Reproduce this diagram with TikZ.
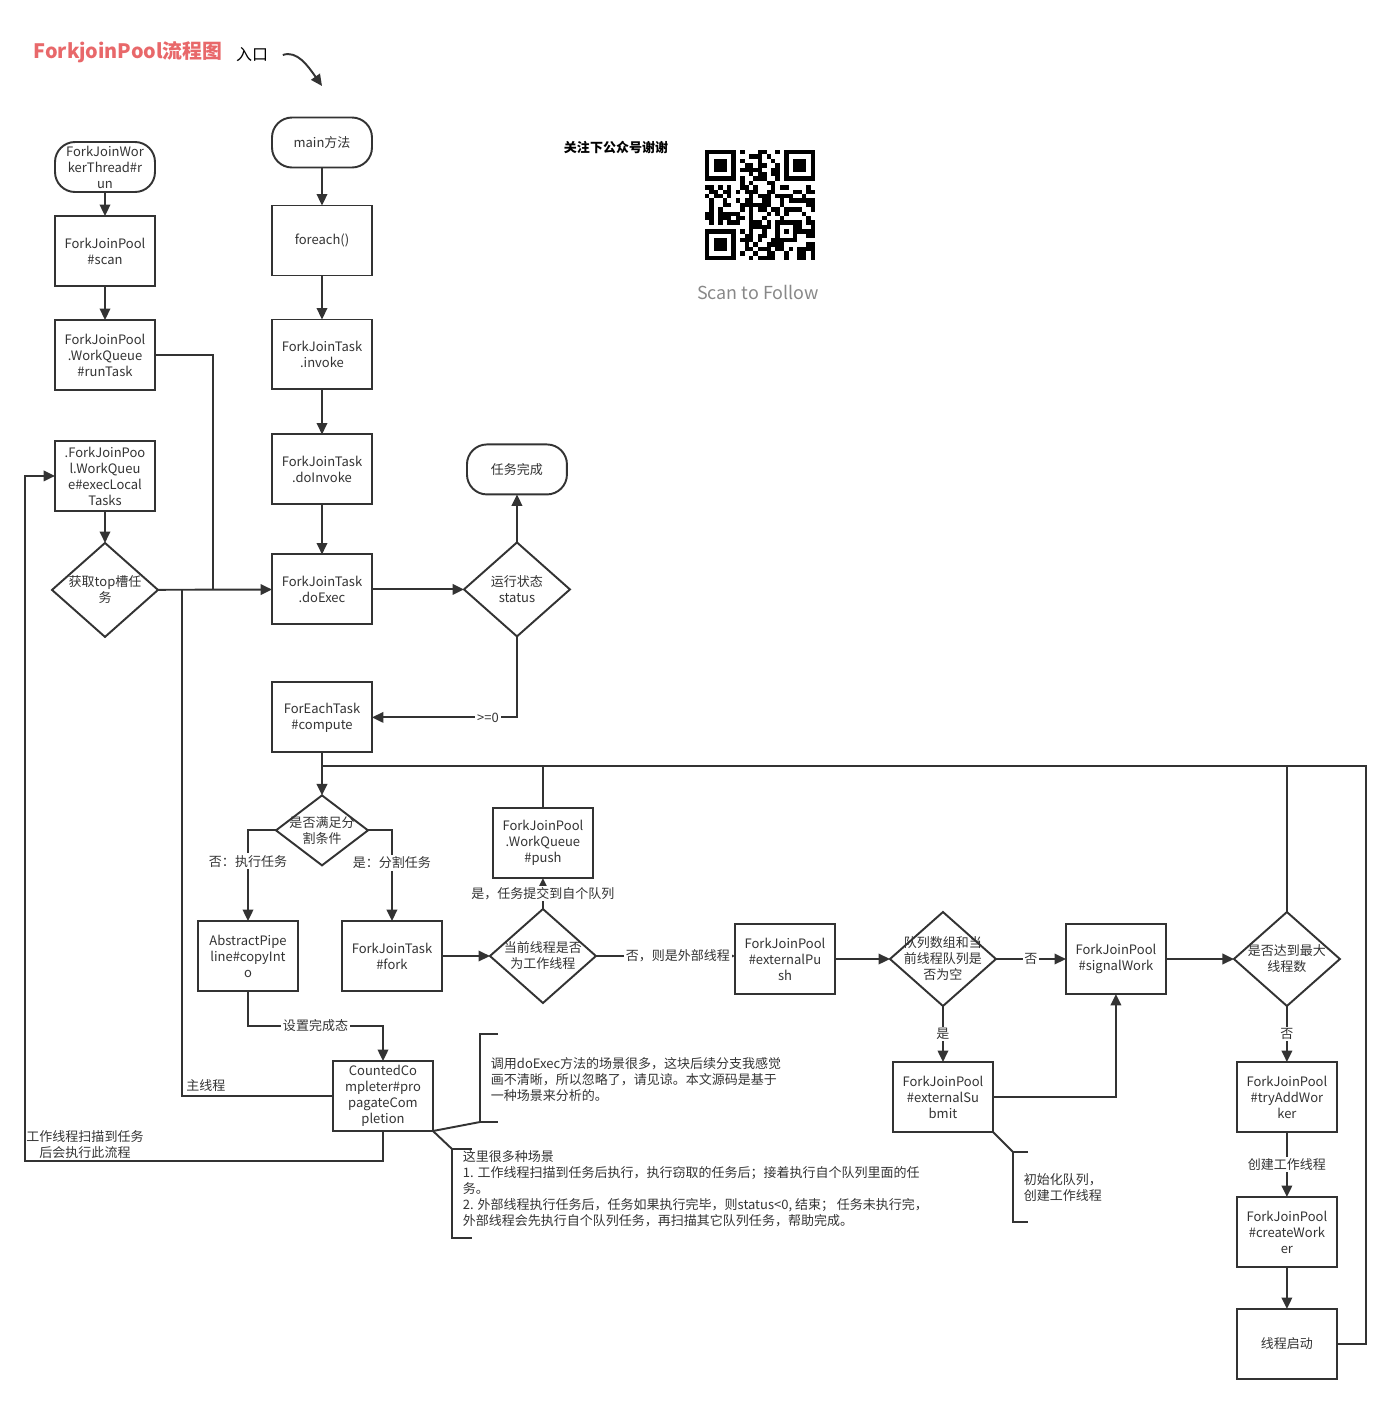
\documentclass[tikz,border=0pt]{standalone}
\usepackage{fontspec}
\setmainfont{Noto Sans CJK SC}
\usetikzlibrary{positioning, arrows.meta, shapes.geometric}
\definecolor{linegray}{RGB}{51,51,51}
\definecolor{titlered}{RGB}{232,104,106}
\definecolor{scangray}{RGB}{136,136,136}
\newcommand{\nodefont}{\fontsize{7.4pt}{9.1pt}\selectfont}
\tikzset{
  shapebase/.style={draw=linegray, line width=1.1pt, text=linegray, align=center, outer sep=0pt},
  proc/.style={shapebase, rectangle, minimum width=2cm, minimum height=1.4cm, inner sep=1pt},
  term/.style={shapebase, rectangle, rounded corners=0.4cm, minimum width=2cm, minimum height=1cm, inner sep=0pt},
  decision/.style={shapebase, diamond, minimum width=2.12cm, minimum height=1.88cm, inner sep=0pt},
  lbl/.style={fill=white, inner sep=1pt, text=linegray},
  memo/.style={align=left, inner sep=0pt, text=linegray, anchor=west},
}

\begin{document}
\begin{tikzpicture}[x=0.02cm, y=-0.02cm, color=linegray, line width=1.1pt, font=\nodefont,
    >={Triangle[length=6.5pt,width=6pt]},
    every label/.style={align=center, font=\nodefont, text=linegray}]
\useasboundingbox (0,0) rectangle (1391,1404);

% title
\node[text=titlered, font=\fontsize{11.3pt}{13pt}\selectfont\bfseries] (title) at (128,52) {ForkjoinPool流程图};
\node[text=black, font=\fontsize{9.1pt}{11pt}\selectfont] (kou) at (252,55) {入口};
\coordinate (entryend) at (322,86);

% worker thread column
\node[term] (run) at (105,167) {ForkJoinWor\\kerThread\#r\\un};
\node[proc, below=0.48cm of run] (scan) {ForkJoinPool\\\#scan};
\node[proc, below=0.68cm of scan] (runtask) {ForkJoinPool\\.WorkQueue\\\#runTask};
\node[proc, below=1.02cm of runtask] (execlocal) {.ForkJoinPoo\\l.WorkQueu\\e\#execLocal\\Tasks};
\node[decision, below=0.64cm of execlocal, label={center:获取top槽任\\务}] (gettop) {};

% main column
\node[term] (main) at (322,142.5) {main方法};
\node[proc, below=0.76cm of main] (foreach) {foreach()};
\node[proc, below=0.88cm of foreach] (invoke) {ForkJoinTask\\.invoke};
\node[proc, below=0.9cm of invoke] (doinvoke) {ForkJoinTask\\.doInvoke};
\node[proc, below=1cm of doinvoke] (doexec) {ForkJoinTask\\.doExec};
\node[decision, right=1.84cm of doexec, label={center:运行状态\\status}] (status) {};
\node[term, above=0.96cm of status] (done) {任务完成};
\node[proc, below=1.16cm of doexec] (compute) {ForEachTask\\\#compute};
\node[decision, minimum width=1.84cm, minimum height=1.4cm, below=0.86cm of compute, label={center:是否满足分\\割条件}] (split) {};

% fork row
\node[proc] (copyinto) at (248,956) {AbstractPipe\\line\#copyInt\\o};
\node[proc, right=0.88cm of copyinto] (fork) {ForkJoinTask\\\#fork};
\node[decision, right=0.96cm of fork, label={center:当前线程是否\\为工作线程}] (isworker) {};
\node[proc, above=0.62cm of isworker] (push) {ForkJoinPool\\.WorkQueue\\\#push};

% external row
\node[proc] (extpush) at (785,959) {ForkJoinPool\\\#externalPu\\sh};
\node[decision, right=1.1cm of extpush, label={center:队列数组和当\\前线程队列是\\否为空}] (isempty) {};
\node[proc, right=1.4cm of isempty] (signal) {ForkJoinPool\\\#signalWork};
\node[decision, right=1.36cm of signal, label={center:是否达到最大\\线程数}] (maxthr) {};
\node[proc, below=1.12cm of isempty] (extsubmit) {ForkJoinPool\\\#externalSu\\bmit};
\node[proc, below=1.12cm of maxthr] (tryadd) {ForkJoinPool\\\#tryAddWor\\ker};
\node[proc, below=1.3cm of tryadd] (create) {ForkJoinPool\\\#createWork\\er};
\node[proc, below=0.84cm of create] (start) {线程启动};
\node[proc] (counted) at (383,1096) {CountedCo\\mpleter\#pro\\pagateCom\\pletion};
\coordinate (jn) at (322,766);

% qr code
\node[text=black, font=\nodefont\bfseries] (follow) at (616,148) {关注下公众号谢谢};
\pgfmathsetseed{42}
\foreach \i in {0,...,24}{
  \foreach \j in {0,...,24}{
    \pgfmathrandominteger{\r}{0}{9}
    \ifnum\r<5 \fill[black] (705+4.4*\i,150+4.4*\j) rectangle ++(4.4,4.4); \fi
  }
}
\fill[white] (705,150) rectangle ++(35.2,35.2);
\fill[white] (705+4.4*17,150) rectangle ++(35.2,35.2);
\fill[white] (705,150+4.4*17) rectangle ++(35.2,35.2);
\foreach \fx/\fy in {0/0,18/0,0/18}{
  \fill[black] (705+4.4*\fx,150+4.4*\fy) rectangle ++(30.8,30.8);
  \fill[white] (709.4+4.4*\fx,154.4+4.4*\fy) rectangle ++(22,22);
  \fill[black] (713.8+4.4*\fx,158.8+4.4*\fy) rectangle ++(13.2,13.2);
}
\fill[black] (705+4.4*16,150+4.4*16) rectangle ++(22,22);
\fill[white] (709.4+4.4*16,154.4+4.4*16) rectangle ++(13.2,13.2);
\fill[black] (713.8+4.4*16,158.8+4.4*16) rectangle ++(4.4,4.4);
\node[text=scangray, font=\fontsize{10.2pt}{12pt}\selectfont] (scanme) at (758,292) {Scan to Follow};

% connectors
\draw[->] ([xshift=0.16cm]kou.east) .. controls (297,50) and (308,66) .. (entryend);
\path[->] (run) edge (scan)
          (scan) edge (runtask)
          (execlocal) edge (gettop)
          (main) edge (foreach)
          (foreach) edge (invoke)
          (invoke) edge (doinvoke)
          (doinvoke) edge (doexec)
          (gettop) edge (doexec)
          (doexec) edge (status)
          (status) edge (done)
          (compute) edge (split)
          (fork) edge (isworker)
          (isworker) edge node[lbl] {是，任务提交到自个队列} (push)
          (isworker.east) edge node[lbl, pos=0.59] {否，则是外部线程} (isworker.east -| extpush.west)
          (extpush) edge (isempty)
          (isempty) edge node[lbl] {否} (signal)
          (isempty) edge node[lbl] {是} (extsubmit)
          (signal) edge (maxthr)
          (maxthr) edge node[lbl] {否} (tryadd)
          (tryadd) edge node[lbl] {创建工作线程} (create)
          (create) edge (start);

\draw (runtask.east) -| (213,590);
\draw[->] (status.south) |- node[lbl, pos=0.6] {>=0} (compute.east);
\draw (push.north) |- (jn);
\draw (maxthr.north) |- (jn);
\draw (start.east) -| (1366,766) -- (jn);
\draw[->] (split.west) -| node[lbl, pos=0.67] {否：执行任务} (copyinto.north);
\draw[->] (split.east) -| node[lbl, pos=0.68] {是：分割任务} (fork.north);
\draw[->] (copyinto.south) -- ++(0,35) -| node[lbl, pos=0.25] {设置完成态} (counted.north);
\draw[->] (extsubmit.east) -| (signal.south);
\draw (counted.west) -| node[pos=0.5, above right, inner sep=2pt] {主线程} (182,590);
\draw[->] (counted.south) |- (25,1161) |- (execlocal.west);
\node[align=center] (scanlbl) at (85,1145) {工作线程扫描到任务\\后会执行此流程};

% notes
\draw (counted.south east) -- (480,1122);
\draw (498,1034) -- (480,1034) -- (480,1122) -- (498,1122);
\node[memo] (memo1) at (490,1080) {调用doExec方法的场景很多，这块后续分支我感觉\\画不清晰，所以忽略了，请见谅。本文源码是基于\\一种场景来分析的。};
\draw (counted.south east) -- (452,1149);
\draw (472,1149) -- (452,1149) -- (452,1238) -- (472,1238);
\node[memo] (memo2) at (462,1189) {这里很多种场景\\1. 工作线程扫描到任务后执行，执行窃取的任务后；接着执行自个队列里面的任\\务。\\2. 外部线程执行任务后，任务如果执行完毕，则status<0, 结束； 任务未执行完，\\外部线程会先执行自个队列任务，再扫描其它队列任务，帮助完成。};
\draw (extsubmit.south east) -- (1013,1152);
\draw (1028,1152) -- (1013,1152) -- (1013,1222) -- (1028,1222);
\node[memo] (memo3) at (1023,1188) {初始化队列，\\创建工作线程};
\end{tikzpicture}
\end{document}
